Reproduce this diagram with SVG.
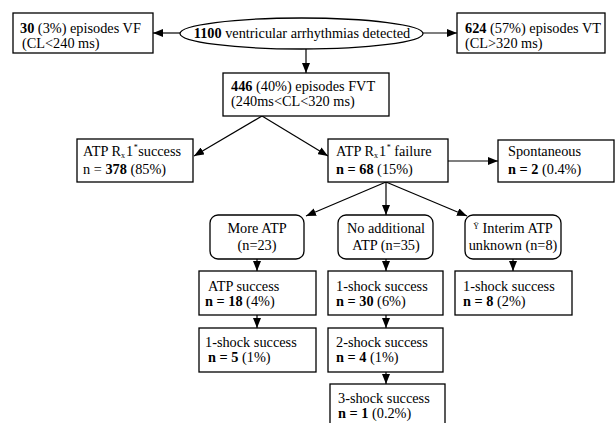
<svg xmlns="http://www.w3.org/2000/svg" width="616" height="423" viewBox="0 0 616 423">
<style>
.b{fill:#fff;stroke:#000;stroke-width:1.3}
.t text{font-size:14.3px;fill:#000}
.m{text-anchor:middle}
.s{font-size:8px}
.c line{stroke:#000;stroke-width:1.2;marker-end:url(#a)}
</style>
<defs>
<marker id="a" markerUnits="userSpaceOnUse" markerWidth="10" markerHeight="8" refX="10" refY="4" orient="auto"><path d="M0,0 L10,4 L0,8 z" fill="#000"/></marker>
</defs>
<rect width="616" height="423" fill="#fff"/>
<g class="c">
<line x1="180" y1="33" x2="153" y2="33"/>
<line x1="423" y1="33" x2="457" y2="33"/>
<line x1="306" y1="49" x2="306" y2="73"/>
<line x1="262" y1="116" x2="194" y2="156"/>
<line x1="262" y1="116" x2="328" y2="156"/>
<line x1="448" y1="161" x2="498" y2="161"/>
<line x1="386" y1="182" x2="306" y2="216"/>
<line x1="386" y1="182" x2="386" y2="215"/>
<line x1="386" y1="182" x2="467" y2="216"/>
<line x1="257" y1="259" x2="257" y2="271"/>
<line x1="386" y1="259" x2="386" y2="271"/>
<line x1="513" y1="259" x2="513" y2="271"/>
<line x1="257" y1="315" x2="257" y2="328"/>
<line x1="386" y1="315" x2="386" y2="328"/>
<line x1="386" y1="372" x2="386" y2="384"/>
</g>
<g class="t" font-family="Liberation Serif, Times New Roman, DejaVu Serif, serif">
<g id="root"><ellipse class="b" cx="301.5" cy="33.5" rx="121.5" ry="15.5"/><text class="m" x="302" y="38"><tspan font-weight="bold">1100</tspan> ventricular arrhythmias detected</text></g>
<g id="vf"><rect class="b" x="13" y="13" width="140" height="40"/><text x="20" y="33"><tspan font-weight="bold">30</tspan> (3%) episodes VF</text><text x="22" y="48">(CL&lt;240 ms)</text></g>
<g id="vt"><rect class="b" x="457" y="13" width="148" height="40"/><text x="465" y="33"><tspan font-weight="bold">624</tspan> (57%) episodes VT</text><text x="465" y="48">(CL&gt;320 ms)</text></g>
<g id="fvt"><rect class="b" x="223" y="73" width="166" height="43"/><text x="231" y="91"><tspan font-weight="bold">446</tspan> (40%) episodes FVT</text><text x="231" y="106">(240ms&lt;CL&lt;320 ms)</text></g>
<g id="succ"><rect class="b" x="77" y="139" width="116" height="43"/><text x="83" y="156">ATP R<tspan class="s" dy="2">x</tspan><tspan dy="-2" dx="1">1</tspan><tspan class="s" dy="-6" dx="0.5">*</tspan><tspan dy="6" dx="0.5">success</tspan></text><text x="83" y="173.5">n = <tspan font-weight="bold">378</tspan> (85%)</text></g>
<g id="fail"><rect class="b" x="328" y="139" width="120" height="43"/><text x="336" y="156">ATP R<tspan class="s" dy="2">x</tspan><tspan dy="-2" dx="1">1</tspan><tspan class="s" dy="-6" dx="0.5">*</tspan><tspan dy="6"> failure</tspan></text><text x="336" y="173.5"><tspan font-weight="bold">n = 68</tspan> (15%)</text></g>
<g id="spont"><rect class="b" x="498" y="140" width="116" height="42"/><text x="508" y="156">Spontaneous</text><text x="508" y="173.5"><tspan font-weight="bold">n = 2</tspan> (0.4%)</text></g>
<g id="more"><rect class="b" x="210" y="215" width="94" height="44" rx="8"/><text class="m" x="257" y="233">More ATP</text><text class="m" x="257" y="250">(n=23)</text></g>
<g id="noadd"><rect class="b" x="338" y="215" width="95" height="44" rx="8"/><text class="m" x="386" y="233">No additional</text><text class="m" x="386" y="250">ATP (n=35)</text></g>
<g id="interim"><rect class="b" x="465" y="215" width="96" height="44" rx="8"/><text class="m" x="513" y="233"><tspan class="s" dy="-4">Ÿ</tspan><tspan dy="4"> Interim ATP</tspan></text><text class="m" x="513" y="250">unknown (n=8)</text></g>
<g id="atps"><rect class="b" x="199" y="271" width="117" height="44"/><text x="208" y="291">ATP success</text><text x="205" y="306"><tspan font-weight="bold">n = 18</tspan> (4%)</text></g>
<g id="s30"><rect class="b" x="328" y="271" width="115" height="44"/><text x="336" y="291">1-shock success</text><text x="336" y="306"><tspan font-weight="bold">n = 30</tspan> (6%)</text></g>
<g id="s8"><rect class="b" x="455" y="271" width="117" height="44"/><text x="463" y="291">1-shock success</text><text x="463" y="306"><tspan font-weight="bold">n = 8</tspan> (2%)</text></g>
<g id="s5"><rect class="b" x="199" y="328" width="117" height="44"/><text x="205" y="347">1-shock success</text><text x="208" y="362"><tspan font-weight="bold">n = 5</tspan> (1%)</text></g>
<g id="s4"><rect class="b" x="328" y="328" width="115" height="44"/><text x="336" y="347">2-shock success</text><text x="336" y="362"><tspan font-weight="bold">n = 4</tspan> (1%)</text></g>
<g id="s1"><rect class="b" x="330" y="384" width="115" height="44"/><text x="338" y="403">3-shock success</text><text x="338" y="418"><tspan font-weight="bold">n = 1</tspan> (0.2%)</text></g>
</g>
</svg>
